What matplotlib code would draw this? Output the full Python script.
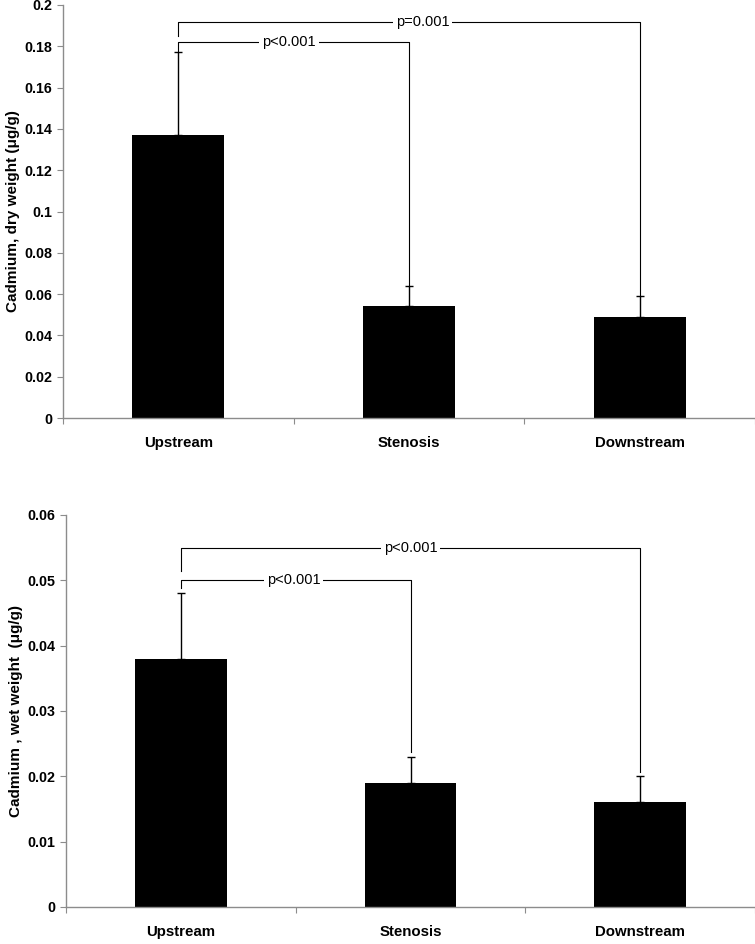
import numpy as np
import matplotlib
matplotlib.use('Agg')
import matplotlib.pyplot as plt

plt.rcParams['font.family'] = ['Liberation Sans', 'DejaVu Sans']

categories = ['Upstream', 'Stenosis', 'Downstream']

# dry weight panel
dryMeans = [0.137, 0.054, 0.049]
dryErr = [0.040, 0.010, 0.010]
dryTicks = [0, 0.02, 0.04, 0.06, 0.08, 0.1, 0.12, 0.14, 0.16, 0.18, 0.2]
dryTickLabels = ['0', '0.02', '0.04', '0.06', '0.08', '0.1', '0.12', '0.14', '0.16', '0.18', '0.2']
# (left idx, right idx, bracket y, left leg end, right leg end, text, text x)
dryBrackets = [(0, 1, 0.1823, 0.1775, 0.0645, 'p<0.001', 0.48),
               (0, 2, 0.192, 0.185, 0.0595, 'p=0.001', 1.06)]

# wet weight panel
wetMeans = [0.038, 0.019, 0.016]
wetErr = [0.010, 0.004, 0.004]
wetTicks = [0, 0.01, 0.02, 0.03, 0.04, 0.05, 0.06]
wetTickLabels = ['0', '0.01', '0.02', '0.03', '0.04', '0.05', '0.06']
wetBrackets = [(0, 1, 0.050, 0.0488, 0.0237, 'p<0.001', 0.49),
               (0, 2, 0.0549, 0.0514, 0.0207, 'p<0.001', 1.0)]

grey = '#8c8c8c'


def makePanel(ax, means, errs, ticks, tickLabels, ylim, ylabel, brackets):
    x = np.arange(len(categories))
    ax.bar(x, means, width=0.40, color='black', zorder=2)
    ax.errorbar(x, means, yerr=[np.zeros(len(errs)), errs], fmt='none',
                ecolor='black', elinewidth=1.0, capsize=3, capthick=1.0, zorder=3)

    for (i, j, y, yl, yr, txt, tx) in brackets:
        ax.plot([x[i], x[i], x[j], x[j]], [yl, y, y, yr], color='black', lw=0.8, zorder=1)
        ax.text(tx, y, txt, ha='center', va='center', fontsize=10.5,
                bbox=dict(facecolor='white', edgecolor='none', pad=2), zorder=4)

    ax.set_xlim(-0.5, 2.5)
    ax.set_ylim(*ylim)
    ax.set_yticks(ticks)
    ax.set_yticklabels(tickLabels, fontweight='bold', fontsize=10.3)
    ax.set_xticks([-0.5, 0.5, 1.5, 2.5])
    ax.set_xticklabels([])
    ax.set_xticks(x, minor=True)
    ax.set_xticklabels(categories, minor=True, fontweight='bold', fontsize=10.8)
    ax.tick_params(axis='x', which='minor', length=0, pad=13)
    ax.tick_params(axis='x', which='major', length=4, color=grey, direction='out')
    ax.tick_params(axis='y', length=4, color=grey, direction='out', pad=4)
    for s in ['top', 'right']:
        ax.spines[s].set_visible(False)
    for s in ['left', 'bottom']:
        ax.spines[s].set_color(grey)
        ax.spines[s].set_linewidth(1.0)
    ax.set_ylabel(ylabel, fontweight='bold', fontsize=11, labelpad=3)


fig = plt.figure(figsize=(7.55, 9.44), dpi=100)
ax1 = fig.add_axes([63 / 755, 1 - 418 / 944, 1 - 63 / 755, 413 / 944])
ax2 = fig.add_axes([66 / 755, 1 - 907 / 944, 1 - 66 / 755, 392 / 944])

makePanel(ax1, dryMeans, dryErr, dryTicks, dryTickLabels, (0, 0.2),
          'Cadmium, dry weight (\u03bcg/g)', dryBrackets)
makePanel(ax2, wetMeans, wetErr, wetTicks, wetTickLabels, (0, 0.06),
          'Cadmium , wet weight  (\u03bcg/g)', wetBrackets)

fig.savefig('out.png', dpi=100)
